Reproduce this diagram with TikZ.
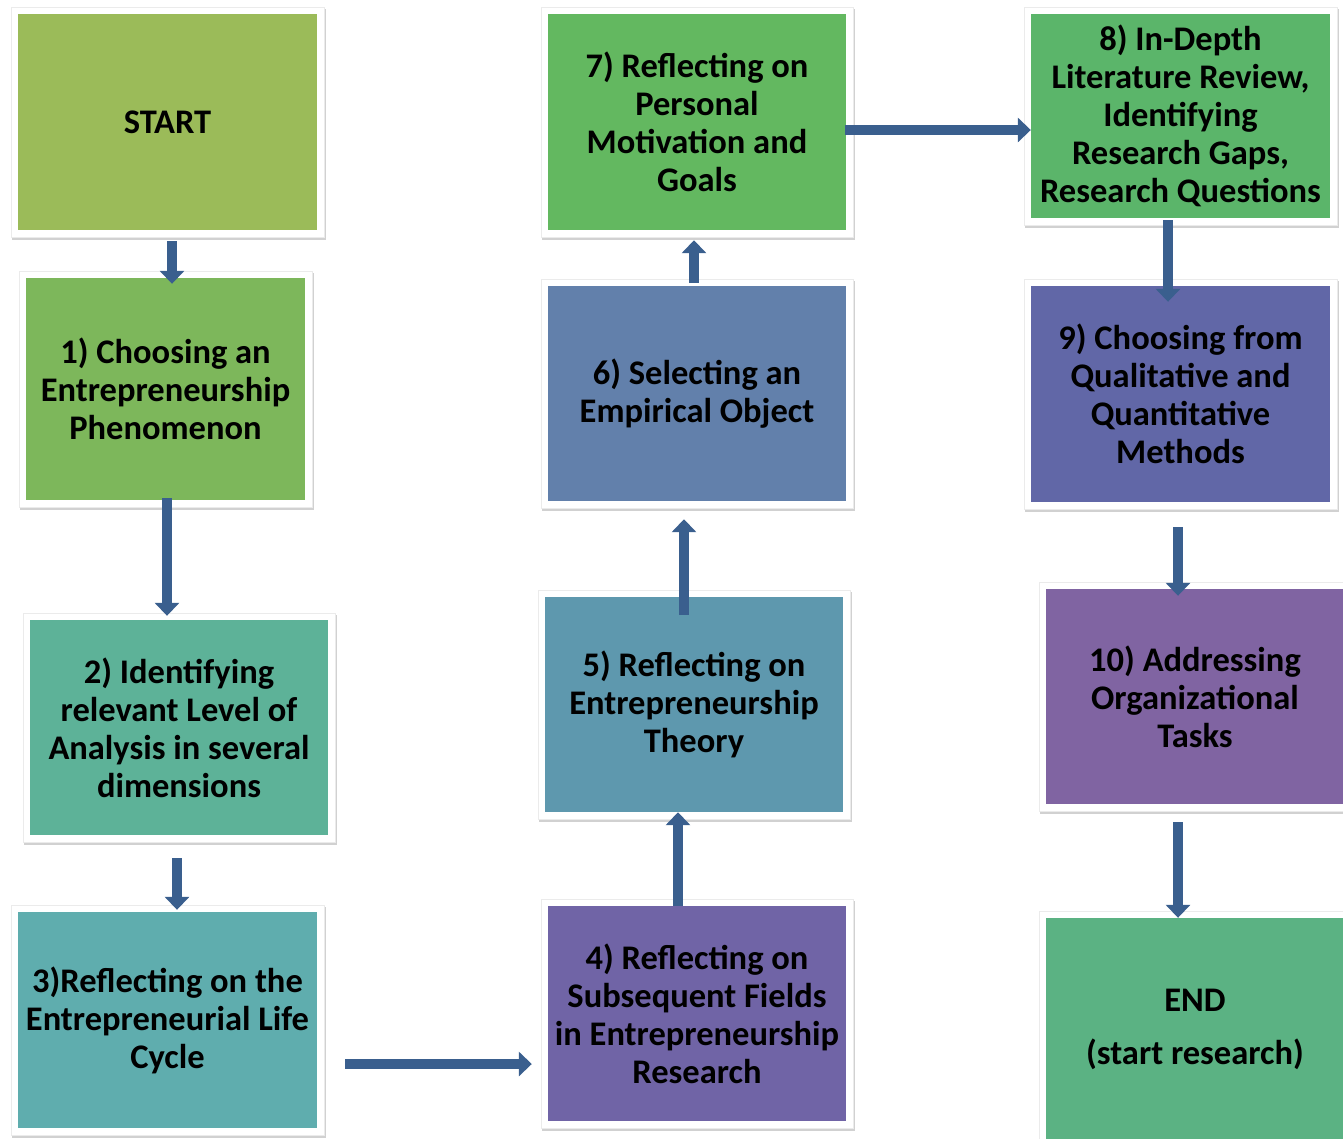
\documentclass[tikz,border=0pt]{standalone}
\usepackage{fontspec}
\setmainfont{Carlito}
\usetikzlibrary{arrows.meta,calc,fit,backgrounds,shadows}
\definecolor{cstart}{HTML}{9BBB59}
\definecolor{cone}{HTML}{7DB75B}
\definecolor{ctwo}{HTML}{5DB298}
\definecolor{cthree}{HTML}{5FADAE}
\definecolor{cfour}{HTML}{7064A6}
\definecolor{cfive}{HTML}{5E98AE}
\definecolor{csix}{HTML}{6280AB}
\definecolor{cseven}{HTML}{63B860}
\definecolor{ceight}{HTML}{5BB56A}
\definecolor{cnine}{HTML}{6167A7}
\definecolor{cten}{HTML}{8064A2}
\definecolor{cend}{HTML}{5BB283}
\definecolor{arrblue}{HTML}{3A5F8E}
\tikzset{
  box/.style={fill=#1, inner sep=0pt, align=center,
    font=\fontsize{34.5}{38}\selectfont\bfseries},
  frame/.style={fill=white, draw=black!8, line width=0.6pt, inner sep=7pt,
    drop shadow={shadow xshift=1.5pt, shadow yshift=-2.5pt, opacity=0.3, fill=black!60}},
  arr/.style={draw=arrblue, line width=10pt,
    -{Triangle[width=24pt,length=13pt]}},
}
\begin{document}
\begin{tikzpicture}[x=1pt,y=-1pt]
\useasboundingbox (0,0) rectangle (1343,1138);
\begin{scope}
\clip (0,0) rectangle (1343,1138);
\node[box=cstart, minimum width=299pt, minimum height=216pt] (start) at (167.5,122) {START};
\node[box=cone, minimum width=279pt, minimum height=222pt] (n1) at (165.5,389) {1) Choosing an\\Entrepreneurship\\Phenomenon};
\node[box=ctwo, minimum width=298pt, minimum height=215pt] (n2) at (179,727.5) {2) Identifying\\relevant Level of\\Analysis in several\\dimensions};
\node[box=cthree, minimum width=299pt, minimum height=216pt] (n3) at (167.5,1020) {3)Reflecting on the\\Entrepreneurial Life\\Cycle};
\node[box=cfour, minimum width=298pt, minimum height=215pt] (n4) at (697,1013.5) {4) Reflecting on\\Subsequent Fields\\in Entrepreneurship\\Research};
\node[box=cfive, minimum width=298pt, minimum height=215pt] (n5) at (694,704.5) {5) Reflecting on\\Entrepreneurship\\Theory};
\node[box=csix, minimum width=298pt, minimum height=215pt] (n6) at (697,393.5) {6) Selecting an\\Empirical Object};
\node[box=cseven, minimum width=298pt, minimum height=216pt] (n7) at (697,122) {7) Reflecting on\\Personal\\Motivation and\\Goals};
\node[box=ceight, minimum width=299pt, minimum height=204pt] (n8) at (1180.5,116) {8) In-Depth\\Literature Review,\\Identifying\\Research Gaps,\\Research Questions};
\node[box=cnine, minimum width=299pt, minimum height=216pt] (n9) at (1180.5,394) {9) Choosing from\\Qualitative and\\Quantitative\\Methods};
\node[box=cten, minimum width=298pt, minimum height=215pt] (n10) at (1195,696.5) {10) Addressing\\Organizational\\Tasks};
\node[box=cend, minimum width=298pt, minimum height=222pt] (end) at (1195,1029) {END\\[15pt](start research)};
\begin{scope}[on background layer]
\foreach \n in {start,n1,n2,n3,n4,n5,n6,n7,n8,n9,n10,end}
  \node[frame, fit=(\n)] {};
\end{scope}
\draw[arr] ($(start.south)+(4.5,11)$) -- ($(n1.north)+(6.5,6)$);
\draw[arr] ($(n1.south)+(1.5,-2)$) -- ($(n2.north)+(-12,-4)$);
\draw[arr] ($(n2.south)+(-2,23)$) -- ($(n3.north)+(9.5,-2)$);
\draw[arr] ($(n3.east)+(28,44)$) -- ($(n4.west)+(-16,50.5)$);
\draw[arr] ($(n4.north)+(-19,0)$) -- ($(n5.south)+(-16,0)$);
\draw[arr] ($(n5.north)+(-10,18)$) -- ($(n6.south)+(-13,18)$);
\draw[arr] ($(n6.north)+(-3,-3)$) -- ($(n7.south)+(-3,10)$);
\draw[arr] ($(n7.east)+(-1,8)$) -- ($(n8.west)+(0,14)$);
\draw[arr] ($(n8.south)+(-12.5,2)$) -- ($(n9.north)+(-12.5,16)$);
\draw[arr] ($(n9.south)+(-2.5,25)$) -- ($(n10.north)+(-17,7)$);
\draw[arr] ($(n10.south)+(-17,18)$) -- ($(end.north)+(-17,0)$);
\end{scope}
\end{tikzpicture}
\end{document}
